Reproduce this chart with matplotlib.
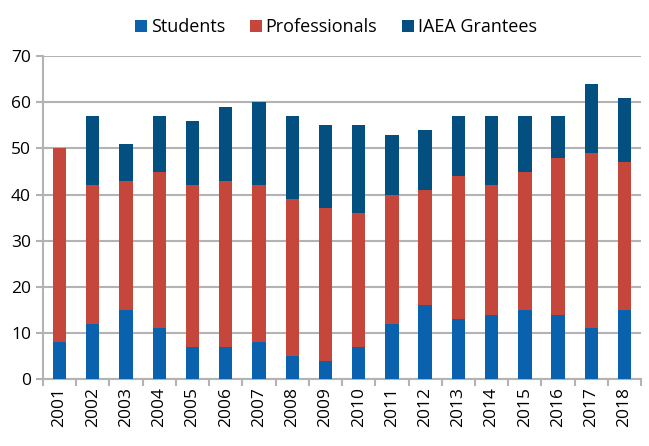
import numpy as np
import matplotlib
matplotlib.use('Agg')
import matplotlib.pyplot as plt

years = [str(y) for y in range(2001, 2019)]
students = [8, 12, 15, 11, 7, 7, 8, 5, 4, 7, 12, 16, 13, 14, 15, 14, 11, 15]
professionals = [42, 30, 28, 34, 35, 36, 34, 34, 33, 29, 28, 25, 31, 28, 30, 34, 38, 32]
grantees = [0, 15, 8, 12, 14, 16, 18, 18, 18, 19, 13, 13, 13, 15, 12, 9, 15, 14]

C_STU = '#0a62ae'
C_PRO = '#c5473c'
C_IAEA = '#034f80'
GRID = '#b3b3b3'

plt.rcParams['font.family'] = ['Open Sans', 'DejaVu Sans']

fig = plt.figure(figsize=(6.49, 4.46), dpi=100)
ax = fig.add_axes([0.066, 0.150, 0.922, 0.724])

x = np.arange(len(years))
s = np.array(students)
p = np.array(professionals)
g = np.array(grantees)
w = 0.4
ax.bar(x, s, w, color=C_STU, label='Students', zorder=3)
ax.bar(x, p, w, bottom=s, color=C_PRO, label='Professionals', zorder=3)
ax.bar(x, g, w, bottom=s + p, color=C_IAEA, label='IAEA Grantees', zorder=3)

ax.set_ylim(0, 70)
ax.set_xlim(-0.5, len(years) - 0.5)
ax.set_yticks(range(0, 71, 10))
ax.yaxis.grid(True, color=GRID, lw=1.5, zorder=0)
ax.set_xticks(x)
ax.set_xticklabels(years, rotation=90, fontsize=12.5)
ax.tick_params(axis='x', length=0, pad=6)
ax.set_xticks(np.arange(-0.5, len(years), 1), minor=True)
ax.tick_params(axis='x', which='minor', length=5, color=GRID, width=1.5)
ax.tick_params(axis='y', labelsize=12.5, length=5, color=GRID, width=1.5)
for sp in ['top', 'right']:
    ax.spines[sp].set_visible(False)
for sp in ['left', 'bottom']:
    ax.spines[sp].set_color(GRID)
    ax.spines[sp].set_linewidth(1.5)

ax.legend(loc='center', bbox_to_anchor=(0.49, 1.09), ncol=3, frameon=False,
          fontsize=13, handlelength=0.65, handleheight=0.65, handletextpad=0.2,
          columnspacing=1.4)

fig.savefig('out.png', dpi=100)
